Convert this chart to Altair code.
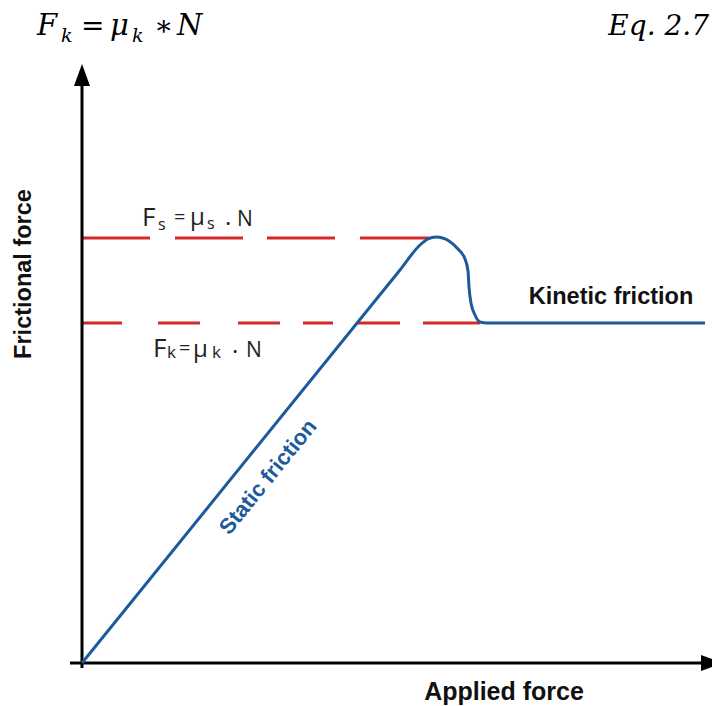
import altair as alt
import pandas as pd

# Friction curve: applied force vs. frictional force (arbitrary units)
applied = [0.0, 31.8, 33.8, 34.6, 35.4, 36.7, 37.5, 38.3, 38.6, 38.7, 38.9, 39.3, 39.8, 40.5, 62.3]
frictional = [0.0, 39.3, 41.8, 42.4, 42.6, 42.2, 41.5, 40.4, 39.2, 37.6, 36.0, 34.8, 34.1, 34.0, 34.0]

# Friction limits: Fs = mu_s * N and Fk = mu_k * N
static_limit = 42.5
kinetic_limit = 34.0
static_dash_end = 34.8
kinetic_dash_end = 39.8

BLUE = "#1d5a9c"
RED = "#d62828"
INK = "#111111"

SX = alt.Scale(domain=[-8.2, 63.0], nice=False, zero=False)
SY = alt.Scale(domain=[-4.3, 66.3], nice=False, zero=False)


def X(field):
    return alt.X(field, type="quantitative", scale=SX, axis=None)


def Y(field):
    return alt.Y(field, type="quantitative", scale=SY, axis=None)


def label(text, x, y, **style):
    df = pd.DataFrame({"x": [x], "y": [y], "s": [text]})
    return alt.Chart(df).mark_text(**style).encode(x=X("x"), y=Y("y"), text="s:N")


curve_df = pd.DataFrame({"applied": applied, "friction": frictional,
                         "step": list(range(len(applied)))})
curve = alt.Chart(curve_df).mark_line(
    color=BLUE, strokeWidth=3, interpolate="monotone"
).encode(x=X("applied"), y=Y("friction"), order="step:Q")

limits_df = pd.DataFrame({"x0": [0.0], "x1": [static_dash_end], "y": [static_limit]})
static_line = alt.Chart(limits_df).mark_rule(
    color=RED, strokeWidth=3, strokeDash=[68, 25, 68, 24, 68, 25, 70, 0]
).encode(x=X("x0"), x2="x1", y=Y("y"))

kin_df = pd.DataFrame({"x0": [0.0], "x1": [kinetic_dash_end], "y": [kinetic_limit]})
kinetic_line = alt.Chart(kin_df).mark_rule(
    color=RED, strokeWidth=3,
    strokeDash=[40, 36, 42, 38, 42, 23, 30, 24, 43, 23, 60, 0]
).encode(x=X("x0"), x2="x1", y=Y("y"))

# Axes with arrow heads
yaxis_df = pd.DataFrame({"x": [0.0], "y0": [-0.5], "y1": [58.0]})
y_axis = alt.Chart(yaxis_df).mark_rule(color="black", strokeWidth=3).encode(
    x=X("x"), y=Y("y0"), y2="y1")
xaxis_df = pd.DataFrame({"x0": [-1.2], "x1": [62.5], "y": [0.0]})
x_axis = alt.Chart(xaxis_df).mark_rule(color="black", strokeWidth=3).encode(
    x=X("x0"), x2="x1", y=Y("y"))

up_df = pd.DataFrame({"x": [0.0], "y": [58.8]})
up_head = alt.Chart(up_df).mark_point(
    shape="M0,-1L0.73,1L-0.73,1Z", filled=True, size=484, color="black", opacity=1
).encode(x=X("x"), y=Y("y"))
right_df = pd.DataFrame({"x": [63.0], "y": [0.0]})
right_head = alt.Chart(right_df).mark_point(
    shape="M1,0L-1,-0.73L-1,0.73Z", filled=True, size=484, color="black", opacity=1
).encode(x=X("x"), y=Y("y"))

sans_bold = dict(font="Liberation Sans", fontWeight="bold", color=INK)
axis_titles = [
    label("Frictional force", -5.8, 38.9, angle=270, fontSize=23.5, align="center",
          baseline="middle", **sans_bold),
    label("Applied force", 42.2, -2.9, fontSize=25, align="center",
          baseline="middle", **sans_bold),
    label("Kinetic friction", 52.9, 36.6, fontSize=23.5, align="center",
          baseline="middle", **sans_bold),
    label("Static friction", 18.6, 18.6, angle=309, fontSize=22, align="center",
          baseline="middle", font="Liberation Sans", fontWeight="bold", color=BLUE),
]

# Hand-lettered limit formulas
hand = dict(font="Open Sans", fontWeight=400, color="#222222", align="left",
            baseline="alphabetic")
hand_pieces = [
    ("F", 6.0, 43.7, 26), ("s", 7.6, 43.3, 16), ("=", 9.2, 43.9, 20),
    ("μ", 10.8, 43.8, 24), ("s", 12.5, 43.4, 16), (".", 14.3, 43.8, 24),
    ("N", 15.5, 43.7, 21),
    ("F", 7.1, 30.6, 26), ("k", 8.5, 30.5, 17), ("=", 9.7, 30.8, 20),
    ("μ", 11.1, 30.6, 24), ("k", 13.0, 30.5, 17), (".", 15.0, 31.0, 24),
    ("N", 16.4, 30.6, 21),
]
hand_layers = [label(t, x, y, fontSize=s, **hand) for t, x, y, s in hand_pieces]

# Equation line above the plot
serif = dict(font="DejaVu Serif", color="black", align="left", baseline="alphabetic")
eq_pieces = [
    ("F", -4.5, 62.8, 29, "italic"), ("k", -2.1, 62.1, 19, "italic"),
    ("=", -0.1, 62.8, 28, "normal"), ("μ", 2.8, 62.8, 29, "italic"),
    ("k", 5.0, 62.1, 19, "italic"), ("∗", 7.2, 62.8, 28, "normal"),
    ("N", 9.5, 62.8, 29, "italic"),
]
eq_layers = [label(t, x, y, fontSize=s, fontStyle=st, **serif)
             for t, x, y, s, st in eq_pieces]
eq_number = label("Eq. 2.7", 62.7, 62.8, fontSize=28, fontStyle="italic",
                  font="DejaVu Serif", color="black", align="right",
                  baseline="alphabetic")

chart = alt.layer(
    static_line, kinetic_line, y_axis, x_axis, up_head, right_head, curve,
    *axis_titles, *hand_layers, *eq_layers, eq_number,
).properties(
    width=712, height=706, padding=0, autosize=alt.AutoSizeParams(type="none"),
    background="white",
).configure_view(stroke=None)

chart.save("out.html", embed_options={"renderer": "svg", "actions": False})
